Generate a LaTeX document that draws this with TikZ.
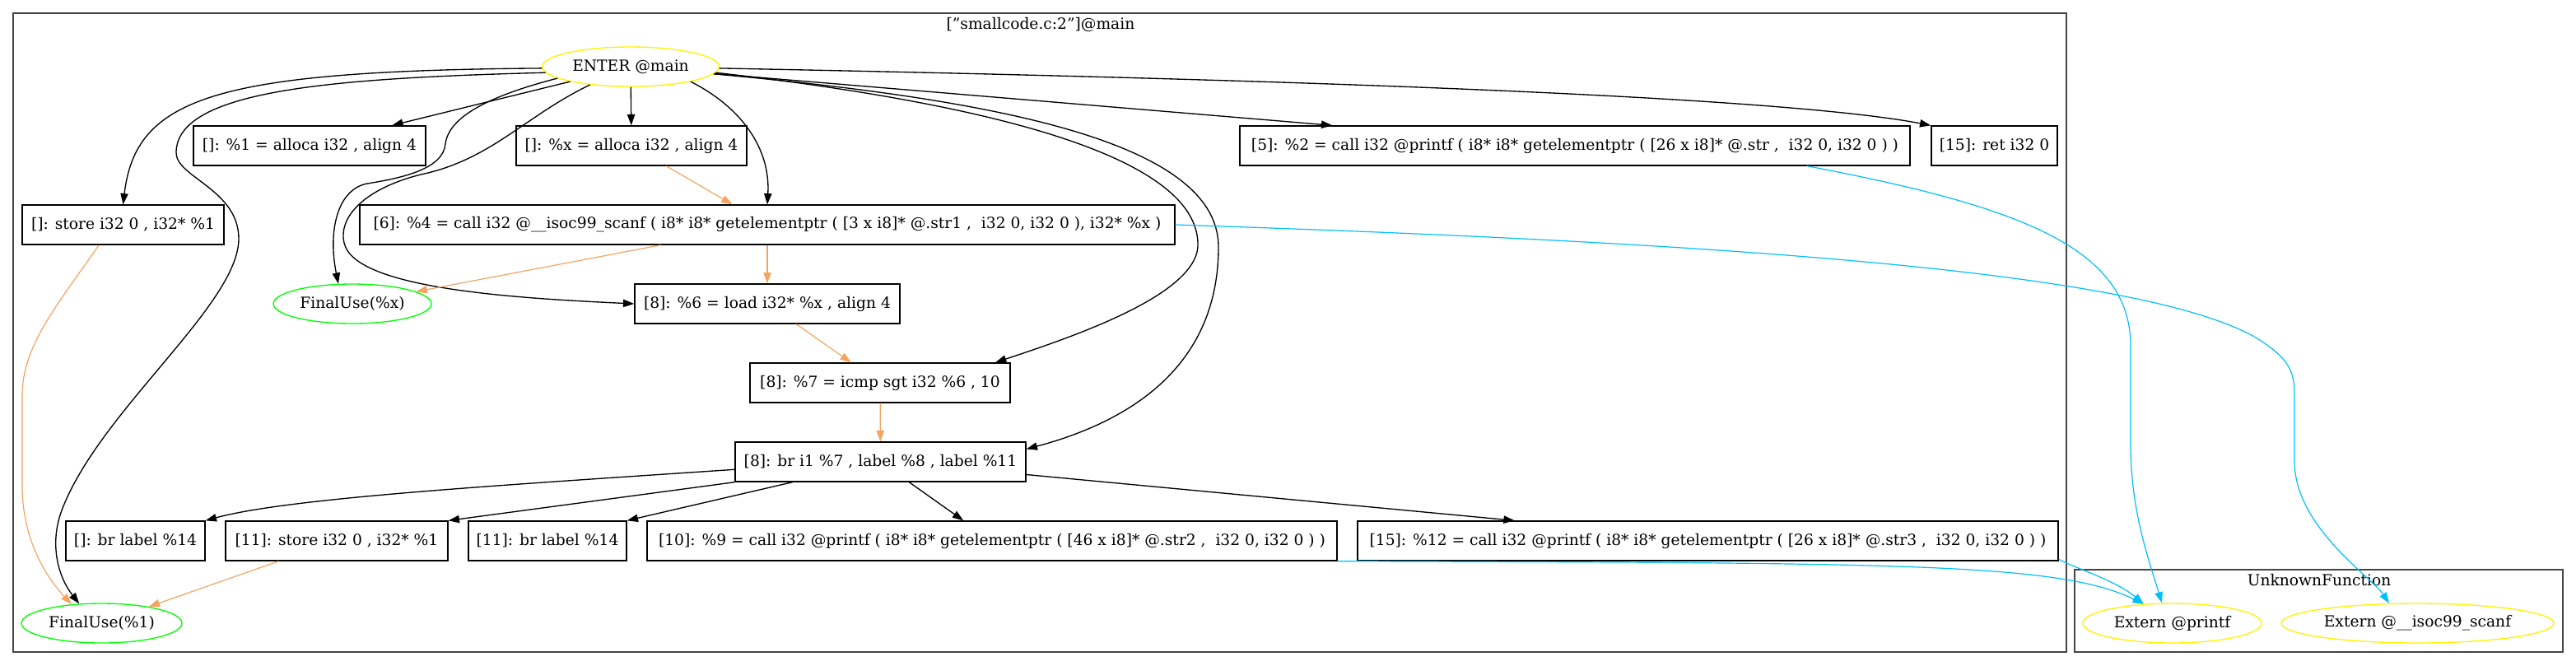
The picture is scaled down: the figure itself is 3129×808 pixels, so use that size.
\documentclass[tikz,border=0pt]{standalone}
\usepackage{fontspec}
\setmainfont{DejaVu Serif}
\usetikzlibrary{arrows.meta,shapes.geometric}
\definecolor{sandy}{RGB}{244,164,96}
\definecolor{dsky}{RGB}{0,191,255}
\definecolor{clgray}{RGB}{68,68,68}
\begin{document}
\begin{tikzpicture}[x=0.75pt,y=-0.75pt,
  every node/.style={font=\fontsize{14pt}{16pt}\selectfont},
  box/.style={draw=black,line width=1pt,rectangle,minimum height=36pt,inner xsep=1pt,inner ysep=0pt},
  oval/.style={ellipse,line width=1pt,minimum height=36pt,inner sep=0pt},
  entrynode/.style={oval,draw=yellow},
  finalnode/.style={oval,draw=green},
  externnode/.style={oval,draw=yellow},
  clusterbox/.style={draw=clgray,line width=1.5pt},
  ctl/.style={draw=black,line width=1pt,-{Triangle[length=10pt,width=7pt]}},
  dep/.style={draw=sandy,line width=0.9pt,-{Triangle[length=10pt,width=7pt]}},
  cy/.style={draw=dsky,line width=0.9pt,-{Triangle[length=10pt,width=7pt]}}]
\useasboundingbox (0,0) rectangle (3129,808);
% clusters
\draw[clusterbox] (16,16) rectangle (2510,792);
\draw[clusterbox] (2520,692) rectangle (3113,792);
\node (tmain) at (1264,30) {[\char"22 smallcode.c:2\char"22]@main};
\node (tunk) at (2817,705) {UnknownFunction};
% nodes
\node[entrynode,minimum width=161.25pt,label={center:ENTER @main}] (enter) at (766,81) {};
\node[box,minimum width=211.5pt] (a1) at (376,177) {[]: \%1 = alloca i32 , align 4};
\node[box,minimum width=210pt] (ax) at (767,177) {[]: \%x = alloca i32 , align 4};
\node[box,minimum width=610.5pt] (n5) at (1913,177) {[5]: \%2 = call i32 @printf ( i8* i8* getelementptr ( [26 x i8]* @.str ,\ \ i32 0, i32 0 ) )};
\node[box,minimum width=114.75pt] (n15r) at (2422.5,177) {[15]: ret i32 0};
\node[box,minimum width=183.75pt] (s1) at (149.5,273) {[]: store i32 0 , i32* \%1};
\node[box,minimum width=742.5pt] (n6) at (932,273) {[6]: \%4 = call i32 @\_\_isoc99\_scanf ( i8* i8* getelementptr ( [3 x i8]* @.str1 ,\ \ i32 0, i32 0 ), i32* \%x )};
\node[finalnode,minimum width=144pt,label={center:FinalUse(\%x)}] (fx) at (428,369) {};
\node[box,minimum width=241.5pt] (n8) at (932,369) {[8]: \%6 = load i32* \%x , align 4};
\node[box,minimum width=237pt] (n7) at (1069,465) {[8]: \%7 = icmp sgt i32 \%6 , 10};
\node[box,minimum width=264.75pt] (br) at (1069.5,561) {[8]: br i1 \%7 , label \%8 , label \%11};
\node[box,minimum width=126.75pt] (b14a) at (164.5,657) {[]: br label \%14};
\node[box,minimum width=202.5pt] (st11) at (409,657) {[11]: store i32 0 , i32* \%1};
\node[box,minimum width=144pt] (b14b) at (665,657) {[11]: br label \%14};
\node[box,minimum width=628.5pt] (n10) at (1205,657) {[10]: \%9 = call i32 @printf ( i8* i8* getelementptr ( [46 x i8]* @.str2 ,\ \ i32 0, i32 0 ) )};
\node[box,minimum width=638.25pt] (n12) at (2074.5,657) {[15]: \%12 = call i32 @printf ( i8* i8* getelementptr ( [26 x i8]* @.str3 ,\ \ i32 0, i32 0 ) )};
\node[finalnode,minimum width=146.25pt,label={center:FinalUse(\%1)}] (f1) at (123.5,757) {};
\node[externnode,minimum width=162.75pt,label={center:Extern @printf}] (ep) at (2638.5,757) {};
\node[externnode,minimum width=248.25pt,label={center:Extern @\_\_isoc99\_scanf}] (es) at (2936.5,757) {};
% control edges from ENTER
\draw[ctl] (enter.181) .. controls (259,86) and (165,119) .. (s1.north);
\draw[ctl] (enter.184) .. controls (400,95) and (215,110) .. (214,185)
  .. controls (213,215) and (290,230) .. (290,290)
  .. controls (290,370) and (120,500) .. (75,620)
  .. controls (60,660) and (70,700) .. (f1.139);
\draw[ctl] (enter) -- (a1);
\draw[ctl] (enter.189) .. controls (600,115) and (545,140) .. (541,175)
  .. controls (538,205) and (490,216) .. (446,223)
  .. controls (410,230) and (398,280) .. (fx.125);
\draw[ctl] (enter.204) .. controls (640,140) and (600,190) .. (520,210)
  .. controls (450,225) and (410,260) .. (418,295)
  .. controls (430,350) and (620,362) .. (n8.west);
\draw[ctl] (enter) -- (ax);
\draw[ctl] (enter.-14) .. controls (900,130) and (936,180) .. (n6.north);
\draw[ctl] (enter) -- (n5);
\draw[ctl] (enter.-1.6) .. controls (1500,95) and (2150,115) .. (n15r.north west);
\draw[ctl] (enter.-4.5) .. controls (1150,120) and (1460,180) .. (1455,300)
  .. controls (1450,360) and (1300,410) .. (n7.10.95);
\draw[ctl] (enter.-5) .. controls (1200,120) and (1480,170) .. (1480,300)
  .. controls (1480,440) and (1380,510) .. (br.5.2);
% control edges from br
\draw[ctl] (br.183) .. controls (600,590) and (350,605) .. (b14a.north east);
\draw[ctl] (br.south west) -- (st11.north east);
\draw[ctl] (br.193.4) -- (b14b.north east);
\draw[ctl] (br) -- (n10);
\draw[ctl] (br.-5.8) -- (n12.174.4);
% data edges
\draw[dep] (s1.220.1) .. controls (70,370) and (27,420) .. (27,480) -- (27,590)
  .. controls (27,660) and (60,705) .. (f1.148);
\draw[dep] (st11) -- (f1);
\draw[dep] (ax) -- (n6);
\draw[dep] (n6) -- (fx);
\draw[dep] (n6) -- (n8);
\draw[dep] (n8) -- (n7);
\draw[dep] (n7) -- (br);
% call edges
\draw[cy] (n6.-0.6) .. controls (2100,295) and (2600,330) .. (2740,410)
  .. controls (2780,435) and (2787,450) .. (2787,480) -- (2787,560)
  .. controls (2787,640) and (2880,700) .. (es.145.7);
\draw[cy] (n5.-5.55) .. controls (2450,250) and (2588,300) .. (2588,420) -- (2588,540)
  .. controls (2588,620) and (2610,680) .. (ep.117.5);
\draw[cy] (n10.south east) .. controls (2300,684) and (2500,683) .. (ep.146);
\draw[cy] (n12.-3.55) .. controls (2520,690) and (2570,705) .. (ep.146);
\end{tikzpicture}
\end{document}
